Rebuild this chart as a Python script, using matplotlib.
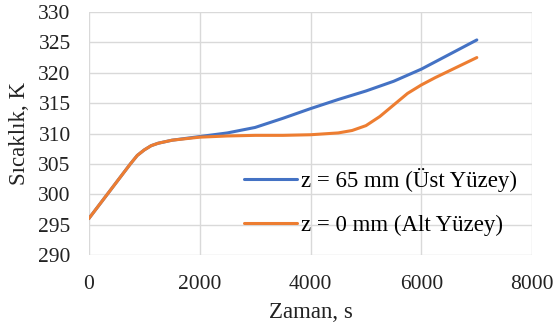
import numpy as np
import matplotlib.pyplot as plt

# Time (s) and temperature (K) values
t_top = [0, 250, 500, 750, 875, 1000, 1125, 1250, 1500, 2000, 2500, 3000,
         3500, 4000, 4500, 5000, 5500, 6000, 6500, 7000]
T_top = [296.0, 299.0, 302.0, 305.0, 306.4, 307.3, 308.0, 308.4, 308.9, 309.5,
         310.1, 311.0, 312.5, 314.1, 315.6, 317.0, 318.6, 320.6, 323.0, 325.4]

t_bot = [0, 250, 500, 750, 875, 1000, 1125, 1250, 1500, 2000, 2500, 3000, 3500,
         4000, 4500, 4750, 5000, 5250, 5500, 5750, 6000, 6250, 6500, 6750, 7000]
T_bot = [296.0, 299.0, 302.0, 305.0, 306.4, 307.3, 308.0, 308.4, 308.9, 309.4,
         309.6, 309.7, 309.7, 309.8, 310.1, 310.5, 311.3, 312.8, 314.7, 316.6,
         318.0, 319.2, 320.3, 321.4, 322.5]

labels = ["z = 65 mm (Üst Yüzey)", "z = 0 mm (Alt Yüzey)"]
x_ticks = [0, 2000, 4000, 6000, 8000]
y_ticks = [290, 295, 300, 305, 310, 315, 320, 325, 330]

plt.rcParams['font.family'] = ['Liberation Serif', 'DejaVu Serif']

fig = plt.figure(figsize=(5.55, 3.33), dpi=100)
ax = fig.add_axes([0.160, 0.234, 0.799, 0.730])

ax.plot(t_top, T_top, color='#4472C4', lw=2.2, label=labels[0], solid_capstyle='round')
ax.plot(t_bot, T_bot, color='#ED7D31', lw=2.2, label=labels[1], solid_capstyle='round')

ax.set_xlim(0, 8000)
ax.set_ylim(290, 330)
ax.set_xticks(x_ticks)
ax.set_yticks(y_ticks)
ax.grid(True, color='#D9D9D9', lw=1.0)
ax.set_axisbelow(True)
for s in ax.spines.values():
    s.set_visible(False)
ax.tick_params(length=0, labelsize=15.5, colors='#222222')
ax.tick_params(axis='x', pad=14)
ax.tick_params(axis='y', pad=13)

ax.set_xlabel("Zaman, s", fontsize=16.5, color='#222222', labelpad=6)
ax.set_ylabel("Sıcaklık, K", fontsize=16.5, color='#222222', labelpad=6)

ax.legend(loc='center left', bbox_to_anchor=(244 / 555, 1 - 202 / 333),
          bbox_transform=fig.transFigure, frameon=False, fontsize=16.5,
          handlelength=2.3, handletextpad=0.2, labelspacing=1.0,
          borderpad=0, borderaxespad=0)

fig.savefig("out.png", dpi=100)
